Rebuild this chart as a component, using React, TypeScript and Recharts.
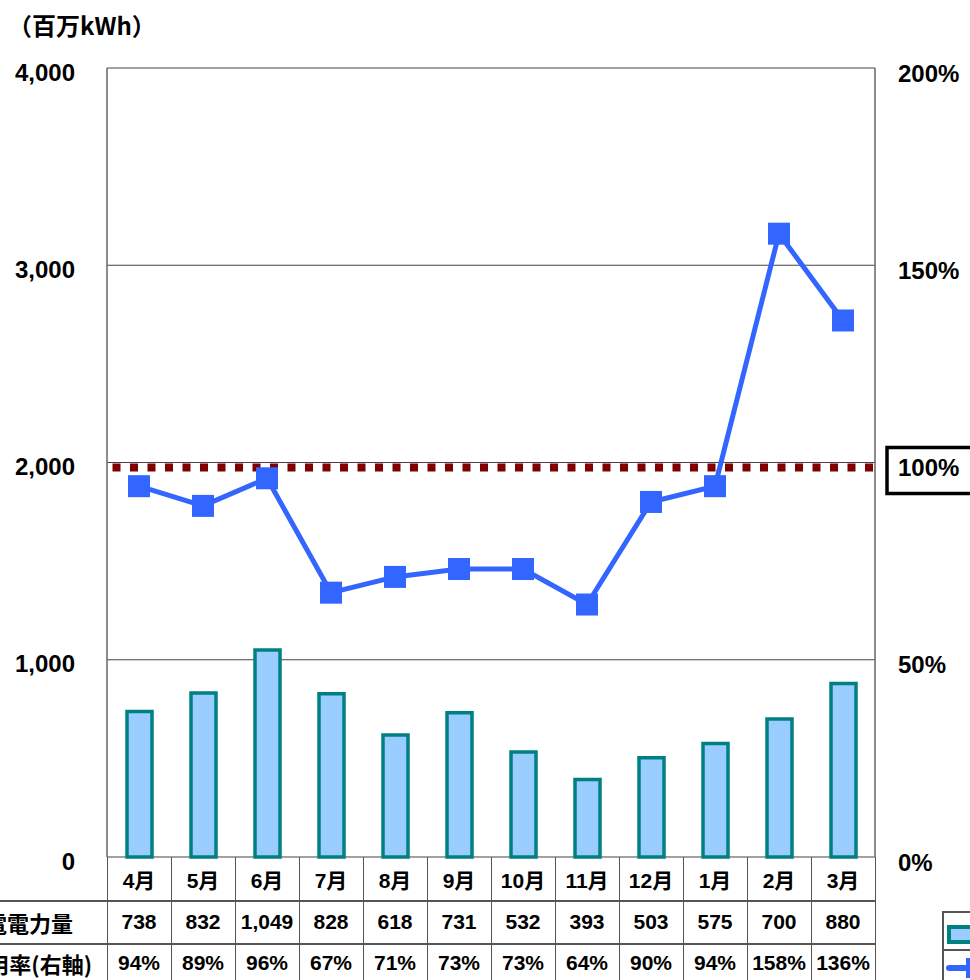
import React from "react";
import {
  ComposedChart,
  Bar,
  Line,
  XAxis,
  YAxis,
  CartesianGrid,
  ReferenceLine,
} from "recharts";

const months = ["4月", "5月", "6月", "7月", "8月", "9月", "10月", "11月", "12月", "1月", "2月", "3月"];
const generation = [738, 832, 1049, 828, 618, 731, 532, 393, 503, 575, 700, 880];
const utilization = [94, 89, 96, 67, 71, 73, 73, 64, 90, 94, 158, 136];
const leftTicks = [0, 1000, 2000, 3000, 4000];
const rightTicks = [0, 50, 100, 150, 200];
const rowLabels = ["発電電力量", "設備利用率(右軸)"];

const data = months.map((m, i) => ({ month: m, gen: generation[i], rate: utilization[i] }));

const W = 970;
const H = 980;
const PLOT_L = 107;
const PLOT_R = 875;
const PLOT_T = 68;
const PLOT_B = 857;
const COL = (PLOT_R - PLOT_L) / months.length;

const NUM_FONT = "'Liberation Sans', Arial, 'Noto Sans CJK JP', sans-serif";
const JP_FONT = "'Noto Sans CJK JP', 'Liberation Sans', sans-serif";
const LINE_COLOR = "#3366FF";
const GRID = "#444";

const LeftTick = ({ x, y, payload }: any) => (
  <text
    x={x - 32}
    y={y + 4}
    textAnchor="end"
    dominantBaseline="central"
    fontSize={24}
    fontWeight="bold"
    fontFamily={NUM_FONT}
    fill="#000"
  >
    {payload.value.toLocaleString("en-US")}
  </text>
);

const RightTick = ({ x, y, payload }: any) => (
  <g>
    {payload.value === 100 && (
      <rect x={x + 12} y={y - 15} width={120} height={46} fill="#fff" stroke="#000" strokeWidth={3.5} />
    )}
    <text
      x={x + 23}
      y={y + 5}
      textAnchor="start"
      dominantBaseline="central"
      fontSize={24}
      fontWeight="bold"
      fontFamily={NUM_FONT}
      fill="#000"
    >
      {payload.value}%
    </text>
  </g>
);

const SquareDot = ({ cx, cy }: any) => (
  <rect x={cx - 11} y={cy - 11} width={22} height={22} fill={LINE_COLOR} />
);

const DottedLine = (p: any) => (
  <line
    x1={p.x1}
    y1={p.y1 + 5}
    x2={p.x2}
    y2={p.y2 + 5}
    stroke="#800000"
    strokeWidth={8}
    strokeDasharray="8 9.5"
    strokeDashoffset={-2}
  />
);

const cell = (left: number, top: number, width: number, height: number): React.CSSProperties => ({
  position: "absolute",
  left,
  top,
  width,
  height,
  display: "flex",
  alignItems: "center",
  justifyContent: "center",
  fontFamily: NUM_FONT,
  fontWeight: "bold",
  fontSize: 21,
  color: "#000",
});

export default function App() {
  const rowTops = [PLOT_B, 900, 943];
  return (
    <div
      style={{
        position: "absolute",
        left: 0,
        top: 0,
        width: W,
        height: H,
        overflow: "hidden",
        background: "#fff",
      }}
    >
      <ComposedChart
        width={W}
        height={H}
        data={data}
        margin={{ top: PLOT_T, right: 0, bottom: H - PLOT_B, left: 0 }}
      >
        <CartesianGrid yAxisId="left" vertical={false} stroke={GRID} strokeWidth={1.2} />
        <XAxis dataKey="month" hide />
        <YAxis
          yAxisId="left"
          width={PLOT_L}
          domain={[0, 4000]}
          ticks={leftTicks}
          tickLine={false}
          tickSize={0}
          tickMargin={0}
          axisLine={{ stroke: "#666", strokeWidth: 1.5 }}
          tick={<LeftTick />}
          interval={0}
        />
        <YAxis
          yAxisId="right"
          orientation="right"
          width={W - PLOT_R}
          domain={[0, 200]}
          ticks={rightTicks}
          tickLine={false}
          tickSize={0}
          tickMargin={0}
          axisLine={{ stroke: "#666", strokeWidth: 1.5 }}
          tick={<RightTick />}
          interval={0}
        />
        <Bar
          yAxisId="left"
          dataKey="gen"
          fill="#99CCFF"
          stroke="#008080"
          strokeWidth={3.5}
          barSize={25}
          isAnimationActive={false}
        />
        <ReferenceLine yAxisId="right" y={100} shape={DottedLine} />
        <Line
          yAxisId="right"
          dataKey="rate"
          stroke={LINE_COLOR}
          strokeWidth={5}
          dot={<SquareDot />}
          activeDot={false}
          isAnimationActive={false}
        />
      </ComposedChart>

      {/* unit label */}
      <div
        style={{
          position: "absolute",
          left: 8,
          top: 7,
          fontFamily: JP_FONT,
          fontWeight: "bold",
          fontSize: 24,
          lineHeight: "36px",
        }}
      >
        （百万kWh）
      </div>

      {/* table lines */}
      {[900, 943].map((y) => (
        <div key={y} style={{ position: "absolute", left: 0, top: y, width: PLOT_R, height: 1.5, background: "#555" }} />
      ))}
      {Array.from({ length: months.length + 1 }).map((_, i) => (
        <div
          key={i}
          style={{ position: "absolute", left: PLOT_L + i * COL - 0.5, top: PLOT_B, width: 1.5, height: H - PLOT_B, background: "#555" }}
        />
      ))}

      {/* table cells */}
      {months.map((m, i) => (
        <React.Fragment key={m}>
          <div style={cell(PLOT_L + i * COL, rowTops[0], COL, 43)}>{m}</div>
          <div style={cell(PLOT_L + i * COL, rowTops[1], COL, 43)}>{generation[i].toLocaleString("en-US")}</div>
          <div style={cell(PLOT_L + i * COL, rowTops[2], COL, 40)}>{utilization[i]}%</div>
        </React.Fragment>
      ))}

      {/* row labels (clipped at left edge as in the source) */}
      <div
        style={{
          position: "absolute",
          right: W - 73,
          top: 900,
          height: 43,
          display: "flex",
          alignItems: "center",
          whiteSpace: "nowrap",
          fontFamily: JP_FONT,
          fontWeight: "bold",
          fontSize: 22,
        }}
      >
        {rowLabels[0]}
      </div>
      <div
        style={{
          position: "absolute",
          right: W - 92,
          top: 943,
          height: 40,
          display: "flex",
          alignItems: "center",
          whiteSpace: "nowrap",
          fontFamily: JP_FONT,
          fontWeight: "bold",
          fontSize: 22,
        }}
      >
        {rowLabels[1]}
      </div>

      {/* legend (clipped at right edge) */}
      <div style={{ position: "absolute", left: 942, top: 911, width: 60, height: 80, border: "2px solid #555", boxSizing: "border-box" }} />
      <div style={{ position: "absolute", left: 942, top: 949, width: 40, height: 1.5, background: "#555" }} />
      <div
        style={{
          position: "absolute",
          left: 947,
          top: 925,
          width: 40,
          height: 19,
          background: "#99CCFF",
          border: "4px solid #008080",
          boxSizing: "border-box",
        }}
      />
      <div style={{ position: "absolute", left: 946, top: 965, width: 40, height: 6, background: LINE_COLOR, borderRadius: 3 }} />
      <div style={{ position: "absolute", left: 966, top: 958, width: 20, height: 20, background: LINE_COLOR }} />
    </div>
  );
}
